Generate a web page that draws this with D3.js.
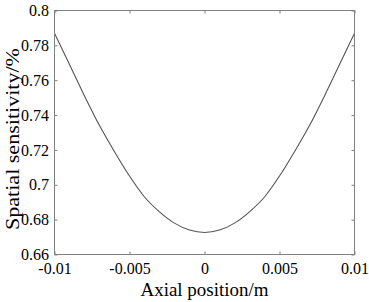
<!DOCTYPE html>
<html>
<head>
<meta charset="utf-8">
<script src="https://cdn.jsdelivr.net/npm/d3@7"></script>
<style>
  html, body { margin: 0; padding: 0; background: #fff; }
  svg { display: block; }
  text { font-family: "Liberation Serif", "Times New Roman", serif; fill: #000; }
</style>
</head>
<body>
<svg id="chart" width="369" height="302"></svg>
<script>
const xValues = [-0.01, -0.009, -0.008, -0.007, -0.006, -0.005, -0.004, -0.003, -0.002, -0.001, 0,
                 0.001, 0.002, 0.003, 0.004, 0.005, 0.006, 0.007, 0.008, 0.009, 0.01];
const sensitivity = [0.787, 0.769, 0.751, 0.734, 0.719, 0.705, 0.693, 0.6845, 0.678, 0.674, 0.6726,
                     0.674, 0.678, 0.6845, 0.693, 0.705, 0.719, 0.734, 0.751, 0.769, 0.787];
const xTicks = [-0.01, -0.005, 0, 0.005, 0.01];
const xTickLabels = ["-0.01", "-0.005", "0", "0.005", "0.01"];
const yTicks = [0.66, 0.68, 0.7, 0.72, 0.74, 0.76, 0.78, 0.8];
const yTickLabels = ["0.66", "0.68", "0.7", "0.72", "0.74", "0.76", "0.78", "0.8"];

const svg = d3.select("#chart");
const L = 54.5, R = 354.5, T = 10.5, B = 254.5;
const x = d3.scaleLinear().domain([-0.01, 0.01]).range([L, R]);
const y = d3.scaleLinear().domain([0.66, 0.8]).range([B, T]);
const axisColor = "#808080";

// curve
const data = xValues.map((v, i) => [v, sensitivity[i]]);
svg.append("path")
  .datum(data)
  .attr("fill", "none")
  .attr("stroke", "#555")
  .attr("stroke-width", 1.1)
  .attr("d", d3.line().x(d => x(d[0])).y(d => y(d[1])).curve(d3.curveMonotoneX));

// box
svg.append("rect").attr("x", L).attr("y", T).attr("width", R - L).attr("height", B - T)
  .attr("fill", "none").attr("stroke", axisColor).attr("stroke-width", 1);

function styleAxis(g) {
  g.select(".domain").remove();
  g.selectAll(".tick line").attr("stroke", axisColor);
  g.selectAll(".tick text").style("font-size", "16px")
    .style("font-family", '"Liberation Serif", serif').attr("fill", "#000");
}

// bottom axis
svg.append("g").attr("transform", `translate(0,${B})`)
  .call(d3.axisBottom(x).tickValues(xTicks).tickSizeInner(-3).tickSizeOuter(0).tickPadding(8)
    .tickFormat((d, i) => xTickLabels[i]))
  .call(styleAxis);
// top axis (ticks only)
svg.append("g").attr("transform", `translate(0,${T})`)
  .call(d3.axisTop(x).tickValues(xTicks).tickSizeInner(-3).tickSizeOuter(0).tickFormat(""))
  .call(styleAxis);
// left axis
svg.append("g").attr("transform", `translate(${L},0)`)
  .call(d3.axisLeft(y).tickValues(yTicks).tickSizeInner(-3).tickSizeOuter(0).tickPadding(5.5)
    .tickFormat((d, i) => yTickLabels[i]))
  .call(styleAxis);
// right axis (ticks only)
svg.append("g").attr("transform", `translate(${R},0)`)
  .call(d3.axisRight(y).tickValues(yTicks).tickSizeInner(-3).tickSizeOuter(0).tickFormat(""))
  .call(styleAxis);

// axis titles
svg.append("text")
  .attr("x", (L + R) / 2).attr("y", 296)
  .attr("text-anchor", "middle")
  .style("font-size", "19px")
  .attr("textLength", 128).attr("lengthAdjust", "spacingAndGlyphs")
  .text("Axial position/m");

svg.append("text")
  .attr("transform", `translate(19,139) rotate(-90)`)
  .attr("text-anchor", "middle")
  .style("font-size", "18px")
  .attr("textLength", 182).attr("lengthAdjust", "spacingAndGlyphs")
  .text("Spatial sensitivity/%");
</script>
</body>
</html>
